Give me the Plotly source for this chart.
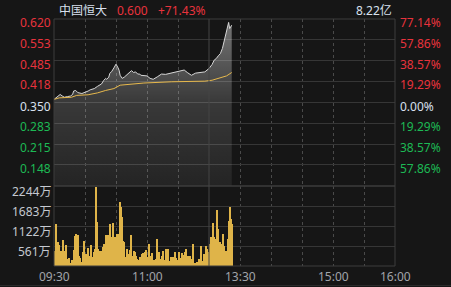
import plotly.graph_objects as go

# ---------------- data ----------------
stock_name = "中国恒大"
last_price = "0.600"
change_pct = "+71.43%"
turnover = "8.22亿"

prev_close = 0.350
price_ticks = [0.620, 0.553, 0.485, 0.418, 0.350, 0.283, 0.215, 0.148]
pct_labels = ["77.14%", "57.86%", "38.57%", "19.29%", "0.00%", "19.29%", "38.57%", "57.86%"]
price_min, price_max = 0.080, 0.620

vol_ticks = [2244, 1683, 1122, 561]
vol_labels = ["2244万", "1683万", "1122万", "561万"]
vol_max = 2244

time_tick_vals = [0, 90, 180, 270, 330]
time_tick_text = ["09:30", "11:00", "13:30", "15:00", "16:00"]
grid_minutes = [30, 60, 90, 120, 180, 210, 240, 270, 300]
lunch_minute = 150
session_minutes = 330

price_minutes = [0, 2, 4, 6, 8, 10, 13, 16, 18, 19,
                 21, 23, 27, 30, 33, 35, 37, 39, 42, 44,
                 46, 48, 50, 51, 53, 54, 56, 58, 59, 60,
                 62, 63, 64, 66, 68, 70, 72, 73, 75, 77,
                 79, 81, 83, 84, 87, 90, 93, 96, 100, 104,
                 108, 113, 117, 122, 126, 129, 133, 137, 142, 146,
                 150, 153, 155, 157, 159, 161, 163, 164, 166, 167,
                 169, 170, 172]
price_values = [0.360, 0.365, 0.371, 0.376, 0.371, 0.367, 0.369, 0.371, 0.376, 0.387,
                0.389, 0.382, 0.379, 0.382, 0.387, 0.391, 0.393, 0.395, 0.402, 0.406,
                0.410, 0.421, 0.428, 0.425, 0.432, 0.444, 0.451, 0.462, 0.471, 0.474,
                0.462, 0.454, 0.438, 0.428, 0.432, 0.438, 0.444, 0.447, 0.453, 0.447,
                0.449, 0.442, 0.442, 0.438, 0.438, 0.436, 0.428, 0.425, 0.433, 0.442,
                0.441, 0.445, 0.449, 0.454, 0.455, 0.447, 0.438, 0.445, 0.447, 0.449,
                0.460, 0.473, 0.487, 0.492, 0.501, 0.508, 0.525, 0.541, 0.562, 0.584,
                0.609, 0.589, 0.600]

avg_minutes = [0, 5, 17, 22, 33, 42, 50, 58, 64, 74, 87, 114, 146, 153, 161, 167, 172]
avg_values = [0.360, 0.365, 0.367, 0.373, 0.375, 0.381, 0.389, 0.395, 0.406, 0.410,
              0.413, 0.417, 0.419, 0.422, 0.430, 0.436, 0.447]

volume = [430, 1178, 383, 664, 589, 430, 337, 430, 729, 430,
          290, 589, 196, 103, 224, 75, 28, 168, 131, 449,
          851, 898, 757, 879, 290, 224, 103, 75, 383, 692,
          337, 196, 505, 56, 290, 589, 150, 243, 383, 477,
          2207, 1225, 477, 430, 337, 411, 20, 542, 617, 430,
          870, 524, 870, 524, 1178, 664, 804, 1197, 524, 804,
          898, 898, 290, 1786, 1664, 1384, 711, 683, 243, 262,
          477, 262, 337, 449, 879, 290, 75, 430, 383, 290,
          196, 168, 131, 262, 196, 337, 355, 243,
          383, 449, 243, 617, 290, 196, 355, 103, 168, 75,
          196, 757, 75, 383, 196, 103, 290, 430, 37, 168,
          477, 196, 477, 103, 150, 243, 103, 243, 75, 383,
          224, 168, 383, 56, 224, 355, 318, 196, 383, 477,
          131, 290, 168, 290, 196, 131, 617, 75, 20, 75,
          103, 103, 196, 103, 570, 75, 131, 337, 103, 570,
          477, 383, 617, 804, 477, 1197, 823, 757, 524, 1571,
          1038, 477, 664, 10, 617, 898, 570, 430, 10, 430,
          757, 1253, 1645, 1318, 1178]
vol_minutes = list(range(len(volume)))

# ---------------- style / layout ----------------
W, H = 451, 287
def px(x):
    return x / W
def py(y):
    return 1 - y / H

BG = "#161616"
GRID = "#363636"
BORDER = "#3c3c3c"
RED = "#e8333d"
GREEN = "#1db954"
NEUTRAL = "#d8e0ee"
GREY_TXT = "#c4c8d0"
TIME_TXT = "#a2a4aa"
FONT = "Noto Sans, Noto Sans CJK SC, sans-serif"

x_dom = [px(54), px(395)]
price_dom = [py(186), py(19)]
vol_dom = [py(266), py(186)]

fig = go.Figure()

fig.add_trace(go.Scatter(
    x=price_minutes, y=price_values, mode="lines",
    line=dict(color="#d6d6d6", width=1),
    fill="tozeroy",
    fillgradient=dict(type="vertical", start=price_min, stop=price_max,
                      colorscale=[[0, "rgba(255,255,255,0.06)"],
                                  [0.5, "rgba(255,255,255,0.15)"],
                                  [1, "rgba(255,255,255,0.42)"]]),
    xaxis="x", yaxis="y", hoverinfo="skip", showlegend=False))

fig.add_trace(go.Scatter(
    x=avg_minutes, y=avg_values, mode="lines",
    line=dict(color="#e6b84c", width=1),
    xaxis="x", yaxis="y", hoverinfo="skip", showlegend=False))

fig.add_trace(go.Bar(
    x=vol_minutes, y=volume, width=1, offset=0,
    marker=dict(color="#dfb449", line=dict(width=0)),
    xaxis="x2", yaxis="y2", hoverinfo="skip", showlegend=False))

axis_common = dict(range=[0, session_minutes], domain=x_dom, tickvals=grid_minutes,
                   showticklabels=False, showgrid=True, griddash="dot",
                   gridcolor="#4a4a4a", gridwidth=1, zeroline=False, showline=False,
                   fixedrange=True)

fig.update_layout(
    width=W, height=H,
    margin=dict(l=0, r=0, t=0, b=0),
    paper_bgcolor=BG, plot_bgcolor=BG,
    bargap=0,
    xaxis=dict(anchor="y", **axis_common),
    xaxis2=dict(anchor="y2", **axis_common),
    yaxis=dict(domain=price_dom, range=[price_min, price_max],
               tickvals=price_ticks, showticklabels=False, showgrid=True,
               gridcolor=GRID, gridwidth=1, zeroline=False, fixedrange=True),
    yaxis2=dict(domain=vol_dom, range=[0, vol_max],
                tickvals=vol_ticks, showticklabels=False, showgrid=True,
                gridcolor=GRID, gridwidth=1, zeroline=False, fixedrange=True),
    font=dict(family=FONT, size=12),
)

shapes = []
# panel borders
for y0, y1 in [(19, 186), (186, 266)]:
    shapes.append(dict(type="rect", xref="paper", yref="paper",
                       x0=px(54), x1=px(395), y0=py(y1), y1=py(y0),
                       line=dict(color=BORDER, width=1), fillcolor="rgba(0,0,0,0)"))
# lunch break solid line
shapes.append(dict(type="line", xref="x", yref="paper", x0=lunch_minute, x1=lunch_minute,
                   y0=py(266), y1=py(19), line=dict(color="#444444", width=1)))
# bottom separator
shapes.append(dict(type="line", xref="paper", yref="paper", x0=0, x1=1,
                   y0=py(285.5), y1=py(285.5), line=dict(color="#2a2a2a", width=1)))
fig.update_layout(shapes=shapes)

ann = []
# left price labels & right percent labels
for v, pl in zip(price_ticks, pct_labels):
    if v > prev_close:
        c = RED
    elif v < prev_close:
        c = GREEN
    else:
        c = NEUTRAL
    ann.append(dict(text=f"{v:.3f}", xref="paper", yref="y", x=px(52.5), y=v,
                    xanchor="right", yanchor="middle", yshift=-3.5, showarrow=False,
                    font=dict(color=c, size=12, family=FONT)))
    ann.append(dict(text=pl, xref="paper", yref="y", x=px(397.5), y=v,
                    xanchor="left", yanchor="middle", yshift=-3.5, showarrow=False,
                    font=dict(color=c, size=12, family=FONT)))
# volume labels
for v, lab in zip(vol_ticks, vol_labels):
    ann.append(dict(text=lab, xref="paper", yref="y2", x=px(52.5), y=v,
                    xanchor="right", yanchor="middle", yshift=-5, showarrow=False,
                    font=dict(color=GREY_TXT, size=12, family=FONT)))
# time labels
for tv, tt in zip(time_tick_vals, time_tick_text):
    ann.append(dict(text=tt, xref="x2", yref="paper", x=tv, y=py(276),
                    xanchor="center", yanchor="middle", showarrow=False,
                    font=dict(color=TIME_TXT, size=12, family=FONT)))
# header
ann.append(dict(text=stock_name, xref="paper", yref="paper", x=px(56.5), y=py(10.5),
                xanchor="left", yanchor="middle", showarrow=False,
                font=dict(color=NEUTRAL, size=12, family=FONT)))
ann.append(dict(text=last_price, xref="paper", yref="paper", x=px(114.5), y=py(10.5),
                xanchor="left", yanchor="middle", showarrow=False,
                font=dict(color=RED, size=12, family=FONT)))
ann.append(dict(text=change_pct, xref="paper", yref="paper", x=px(155.5), y=py(10.5),
                xanchor="left", yanchor="middle", showarrow=False,
                font=dict(color=RED, size=12, family=FONT)))
ann.append(dict(text=turnover, xref="paper", yref="paper", x=px(393.5), y=py(10.5),
                xanchor="right", yanchor="middle", showarrow=False,
                font=dict(color=NEUTRAL, size=12, family=FONT)))
fig.update_layout(annotations=ann)

fig.write_html("out.html")
